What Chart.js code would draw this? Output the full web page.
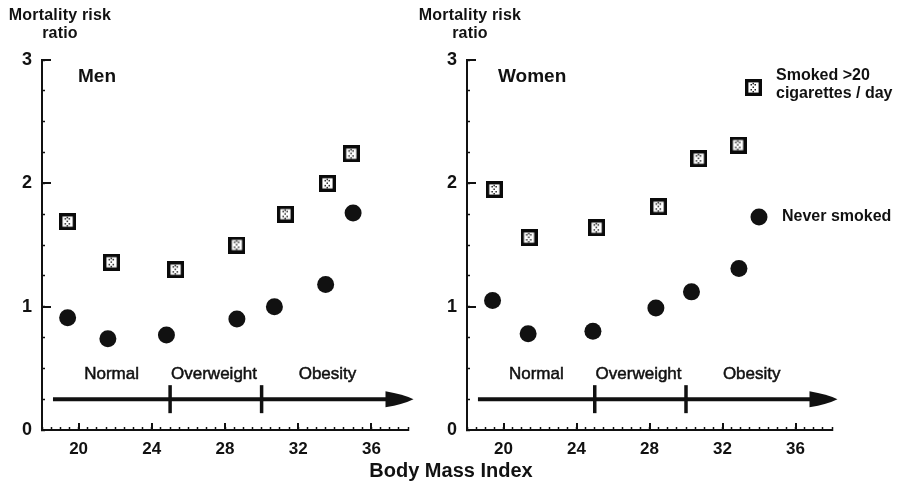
<!DOCTYPE html>
<html>
<head>
<meta charset="utf-8">
<script src="https://cdn.jsdelivr.net/npm/chart.js@4.4.0/dist/chart.umd.min.js"></script>
<style>
  html, body { margin: 0; padding: 0; background: #fff; }
  #wrap { position: relative; width: 900px; height: 488px; font-family: "Liberation Sans", Arial, sans-serif; color: #111; }
  .box { position: absolute; top: 0; height: 488px; }
  #menBox { left: 0; width: 420px; }
  #womenBox { left: 420px; width: 480px; }
  .ytitle { position: absolute; top: 6px; width: 130px; text-align: center; font-weight: bold; font-size: 16px; line-height: 18px; letter-spacing: 0.2px; }
  .panel { position: absolute; top: 64px; font-weight: bold; font-size: 19px; line-height: 24px; }
  #xtitle { position: absolute; left: 0; width: 902px; top: 458px; text-align: center; font-weight: bold; font-size: 20px; line-height: 24px; }
</style>
</head>
<body>
<div id="wrap">
  <div class="box" id="menBox"><canvas id="menChart" width="420" height="488"></canvas></div>
  <div class="box" id="womenBox"><canvas id="womenChart" width="480" height="488"></canvas></div>
  <div class="ytitle" style="left:-5px">Mortality risk<br>ratio</div>
  <div class="ytitle" style="left:405px">Mortality risk<br>ratio</div>
  <div class="panel" style="left:78px">Men</div>
  <div class="panel" style="left:498px">Women</div>
  <div id="xtitle">Body Mass Index</div>
</div>
<script>
"use strict";

// Men: never smoked
const MEN_NEVER_BMI = [19.4, 21.6, 24.8, 28.65, 30.7, 33.5, 35.0];
const MEN_NEVER_RR  = [0.91, 0.74, 0.77, 0.90, 1.00, 1.18, 1.76];
// Men: smoked >20 cigarettes / day
const MEN_SMOKED_BMI = [19.4, 21.8, 25.3, 28.65, 31.3, 33.6, 34.9];
const MEN_SMOKED_RR  = [1.69, 1.36, 1.30, 1.50, 1.75, 2.00, 2.24];

// Women: never smoked
const WOMEN_NEVER_BMI = [19.4, 21.35, 24.9, 28.35, 30.3, 32.9];
const WOMEN_NEVER_RR  = [1.05, 0.78, 0.80, 0.99, 1.12, 1.31];
// Women: smoked >20 cigarettes / day
const WOMEN_SMOKED_BMI = [19.5, 21.4, 25.1, 28.5, 30.7, 32.85];
const WOMEN_SMOKED_RR  = [1.95, 1.56, 1.64, 1.81, 2.20, 2.31];

// BMI categories drawn on the arrow
const BAND_LABELS  = ["Normal", "Overweight", "Obesity"];
const BAND_LABEL_X = [21.8, 27.4, 33.6];
const BAND_CUTS    = [25, 30];

// axes
const X_MIN = 18, X_MAX = 38;
const X_LABELS = [20, 24, 28, 32, 36];
const Y_MIN = 0, Y_MAX = 3;
const Y_LABELS = [0, 1, 2, 3];

const FONT = "'Liberation Sans', Arial, sans-serif";

// square marker with a dotted fill
function makeSquareMarker() {
  const c = document.createElement("canvas");
  c.width = 17; c.height = 17;
  const g = c.getContext("2d");
  g.fillStyle = "#fff";
  g.fillRect(0, 0, 17, 17);
  g.lineWidth = 3.4;
  g.strokeStyle = "#0a0a0a";
  g.strokeRect(1.7, 1.7, 13.6, 13.6);
  g.fillStyle = "#222";
  [[5.5, 5], [9.5, 5], [7.5, 7.5], [5.5, 10], [9.5, 10], [7.5, 12], [7.5, 3.8]].forEach(p => g.fillRect(p[0], p[1], 1.5, 1.5));
  return c;
}
const SQUARE = makeSquareMarker();

function pts(xs, ys) {
  return xs.map((x, i) => ({ x, y: ys[i] }));
}

// longer major ticks on both axes
const majorTicks = {
  id: "majorTicks",
  afterDraw(chart) {
    const { ctx, scales: { x, y }, chartArea } = chart;
    ctx.save();
    ctx.strokeStyle = "#111";
    ctx.lineWidth = 2;
    X_LABELS.forEach(v => {
      const px = Math.round(x.getPixelForValue(v));
      ctx.beginPath();
      ctx.moveTo(px, chartArea.bottom);
      ctx.lineTo(px, chartArea.bottom - 7);
      ctx.stroke();
    });
    Y_LABELS.forEach(v => {
      const py = Math.round(y.getPixelForValue(v));
      ctx.beginPath();
      ctx.moveTo(chartArea.left, py);
      ctx.lineTo(chartArea.left + 9, py);
      ctx.stroke();
    });
    ctx.restore();
  }
};

// BMI category arrow with cut marks
const bandArrow = {
  id: "bandArrow",
  afterDraw(chart) {
    const { ctx, scales: { x, y } } = chart;
    const ay = y.getPixelForValue(0.25);
    const x0 = x.getPixelForValue(18.6);
    const tip = x.getPixelForValue(38.3);
    ctx.save();
    ctx.strokeStyle = "#111";
    ctx.fillStyle = "#111";
    ctx.lineWidth = 4;
    ctx.beginPath();
    ctx.moveTo(x0, ay);
    ctx.lineTo(tip - 20, ay);
    ctx.stroke();
    ctx.beginPath();
    ctx.moveTo(tip - 28, ay - 8);
    ctx.quadraticCurveTo(tip - 10, ay - 5, tip, ay);
    ctx.quadraticCurveTo(tip - 10, ay + 5, tip - 28, ay + 8);
    ctx.closePath();
    ctx.fill();
    ctx.lineWidth = 3.5;
    BAND_CUTS.forEach(v => {
      const px = x.getPixelForValue(v);
      ctx.beginPath();
      ctx.moveTo(px, ay - 14);
      ctx.lineTo(px, ay + 14);
      ctx.stroke();
    });
    ctx.font = "17px " + FONT;
    ctx.textAlign = "center";
    ctx.textBaseline = "middle";
    ctx.lineWidth = 0.5;
    const ly = y.getPixelForValue(0.45);
    BAND_LABELS.forEach((t, i) => {
      const px = x.getPixelForValue(BAND_LABEL_X[i]);
      ctx.fillText(t, px, ly);
      ctx.strokeText(t, px, ly);
    });
    ctx.restore();
  }
};

// legend for the women panel
const sideLegend = {
  id: "sideLegend",
  afterDraw(chart, args, opts) {
    if (!opts.show) return;
    const ctx = chart.ctx;
    ctx.save();
    ctx.drawImage(SQUARE, 333 - 8, 87 - 8);
    ctx.fillStyle = "#111";
    ctx.beginPath();
    ctx.arc(339, 217, 8.5, 0, Math.PI * 2);
    ctx.fill();
    ctx.font = "bold 16px " + FONT;
    ctx.textAlign = "left";
    ctx.textBaseline = "middle";
    ctx.fillText("Smoked >20", 356, 76);
    ctx.fillText("cigarettes / day", 356, 94);
    ctx.fillText("Never smoked", 362, 217);
    ctx.restore();
  }
};

function buildChart(canvasId, never, smoked, padLeft, padRight, showLegend) {
  const ctx = document.getElementById(canvasId).getContext("2d");
  return new Chart(ctx, {
    type: "scatter",
    data: {
      datasets: [
        {
          label: "Smoked >20 cigarettes / day",
          data: smoked,
          pointStyle: SQUARE,
          pointRadius: 8
        },
        {
          label: "Never smoked",
          data: never,
          pointStyle: "circle",
          pointRadius: 8.5,
          backgroundColor: "#111",
          borderColor: "#111",
          borderWidth: 0
        }
      ]
    },
    options: {
      responsive: false,
      animation: false,
      devicePixelRatio: 1,
      layout: { padding: { left: padLeft, right: padRight, top: 60, bottom: 28 } },
      plugins: {
        legend: { display: false },
        tooltip: { enabled: false },
        sideLegend: { show: showLegend }
      },
      scales: {
        x: {
          type: "linear",
          min: X_MIN,
          max: X_MAX,
          afterFit: s => { s.height = 30; },
          border: { color: "#111", width: 2 },
          grid: { drawOnChartArea: false, tickLength: -3, tickColor: "#111", tickWidth: 1.5 },
          ticks: {
            stepSize: 0.5,
            autoSkip: false,
            maxRotation: 0,
            padding: 12,
            color: "#111",
            font: { family: FONT, size: 17, weight: "bold" },
            callback: v => (X_LABELS.includes(v) ? String(v) : "")
          }
        },
        y: {
          type: "linear",
          min: Y_MIN,
          max: Y_MAX,
          afterFit: s => { s.width = 30; },
          border: { color: "#111", width: 2 },
          grid: { drawOnChartArea: false, tickLength: -3, tickColor: "#111", tickWidth: 1.5 },
          ticks: {
            stepSize: 0.25,
            autoSkip: false,
            padding: 13,
            color: "#111",
            font: { family: FONT, size: 18, weight: "bold" },
            callback: v => (Y_LABELS.includes(v) ? String(v) : "")
          }
        }
      }
    },
    plugins: [majorTicks, bandArrow, sideLegend]
  });
}

buildChart("menChart",
  pts(MEN_NEVER_BMI, MEN_NEVER_RR),
  pts(MEN_SMOKED_BMI, MEN_SMOKED_RR), 12, 12, false);
buildChart("womenChart",
  pts(WOMEN_NEVER_BMI, WOMEN_NEVER_RR),
  pts(WOMEN_SMOKED_BMI, WOMEN_SMOKED_RR), 17, 68, true);
</script>
</body>
</html>
